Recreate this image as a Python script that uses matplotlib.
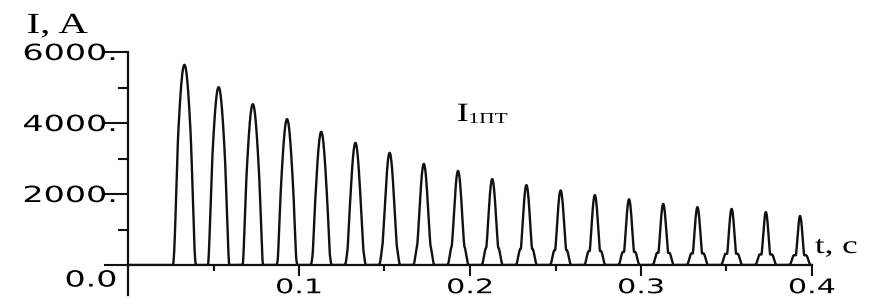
import numpy as np
import matplotlib
matplotlib.use("Agg")
from matplotlib import pyplot as plt
from matplotlib import patheffects
from matplotlib.transforms import Affine2D, ScaledTranslation
from matplotlib.ticker import FixedLocator

#%% values
peak_t = [0.033, 0.053, 0.073, 0.093, 0.113, 0.133, 0.153, 0.173, 0.193, 0.213,
          0.233, 0.253, 0.273, 0.293, 0.313, 0.333, 0.353, 0.373, 0.393]
peak_i = [5640, 5010, 4530, 4110, 3750, 3440, 3160, 2850, 2650, 2420,
          2250, 2100, 1970, 1850, 1720, 1630, 1580, 1490, 1380]
# half width of the sharp part of every pulse, s
spike_w = [0.0066, 0.0062, 0.0058, 0.0054, 0.0050, 0.0046, 0.0042, 0.0039, 0.0037, 0.0035,
           0.0033, 0.0032, 0.0030, 0.0029, 0.0028, 0.0027, 0.0026, 0.0025, 0.0024]
shoulder = 0.2      # pedestal under each spike, part of the peak
ped_flat = 0.0035   # flat top of the pedestal (half), s
ped_base = 0.0062   # foot of the pedestal (half), s

xticks = [0.1, 0.2, 0.3, 0.4]
xminor = [0.05, 0.15, 0.25, 0.35]
yticks = [0, 2000, 4000, 6000]
ylabels = ["0.0", "2000.", "4000.", "6000."]
yminor = [1000, 3000, 5000]

#%% build the current curve
t = np.arange(0, 0.4, 0.00002)
cur = np.zeros_like(t)
for tp, ip, w in zip(peak_t, peak_i, spike_w):
    x = np.abs(t - tp)
    ped = np.where(x < ped_flat, 1.0,
                   np.where(x < ped_base,
                            0.5 * (1 + np.cos(np.pi * (x - ped_flat) / (ped_base - ped_flat))), 0.0))
    spk = np.where(x < w, np.clip(np.cos(np.pi * x / (2 * w)), 0, 1) ** 1.3, 0.0)
    cur += ip * (shoulder * ped + (1 - shoulder) * spk)


#%% the scanned picture is stretched sideways, so stretch the text too
class HStretch(patheffects.AbstractPathEffect):
    def __init__(self, sx, anchor="center"):
        super().__init__()
        self.sx = sx
        self.anchor = anchor

    def draw_path(self, renderer, gc, tpath, affine, rgbFace=None):
        ext = tpath.get_extents(affine)
        if self.anchor == "right":
            x0 = ext.x1
        elif self.anchor == "left":
            x0 = ext.x0
        else:
            x0 = 0.5 * (ext.x0 + ext.x1)
        aff = affine + Affine2D().translate(-x0, 0).scale(self.sx, 1).translate(x0, 0)
        renderer.draw_path(gc, tpath, aff, rgbFace)


fig = plt.figure(figsize=(8.7, 3.0), dpi=100)
ax = fig.add_axes([128 / 870, 1 - 265 / 300, (812 - 128) / 870, (265 - 52) / 300])

ax.plot(t, cur, color="#111111", lw=1.7)

ax.set_xlim(0, 0.4)
ax.set_ylim(0, 6000)
for s in ["top", "right"]:
    ax.spines[s].set_visible(False)
for s in ["left", "bottom"]:
    ax.spines[s].set_linewidth(1.6)
    ax.spines[s].set_color("#111111")
ax.spines["left"].set_bounds(-850, 6000)

ax.xaxis.set_major_locator(FixedLocator(xticks))
ax.xaxis.set_minor_locator(FixedLocator(xminor))
ax.yaxis.set_major_locator(FixedLocator(yticks))
ax.yaxis.set_minor_locator(FixedLocator(yminor))
ax.set_xticklabels([str(v) for v in xticks])
ax.set_yticklabels(ylabels)

ax.tick_params(axis="x", which="major", direction="out", length=8, width=1.5, pad=1.5,
               labelsize=14.5, color="#111111")
ax.tick_params(axis="x", which="minor", direction="out", length=4, width=1.5, color="#111111")
ax.tick_params(axis="y", which="major", direction="out", length=17, width=1.5, pad=-9,
               labelsize=16, color="#111111")
ax.tick_params(axis="y", which="minor", direction="out", length=7, width=1.5, color="#111111")

for lab in ax.get_xticklabels():
    lab.set_path_effects([HStretch(1.5, "center")])
for lab in ax.get_yticklabels():
    lab.set_path_effects([HStretch(1.5, "right")])
zero_lab = ax.get_yticklabels()[0]
zero_lab.set_va("top")
zero_lab.set_transform(zero_lab.get_transform() + ScaledTranslation(0, -4 / 72, fig.dpi_scale_trans))

serif = "Liberation Serif"
fig.text(27 / 870, 1 - 33 / 300, "I, A", family=serif, fontsize=21, ha="left", va="baseline",
         path_effects=[HStretch(1.4, "left")])
fig.text(815 / 870, 1 - 253 / 300, "t, c", family=serif, fontsize=18, ha="left", va="baseline",
         path_effects=[HStretch(1.4, "left")])
fig.text(457 / 870, 1 - 121 / 300, "I", family=serif, fontsize=19, ha="left", va="baseline",
         path_effects=[HStretch(1.4, "left")])
fig.text(469 / 870, 1 - 123 / 300, "1ПТ", family=serif, fontsize=11, ha="left", va="baseline",
         path_effects=[HStretch(1.4, "left")])

fig.savefig("out.png", dpi=100)
